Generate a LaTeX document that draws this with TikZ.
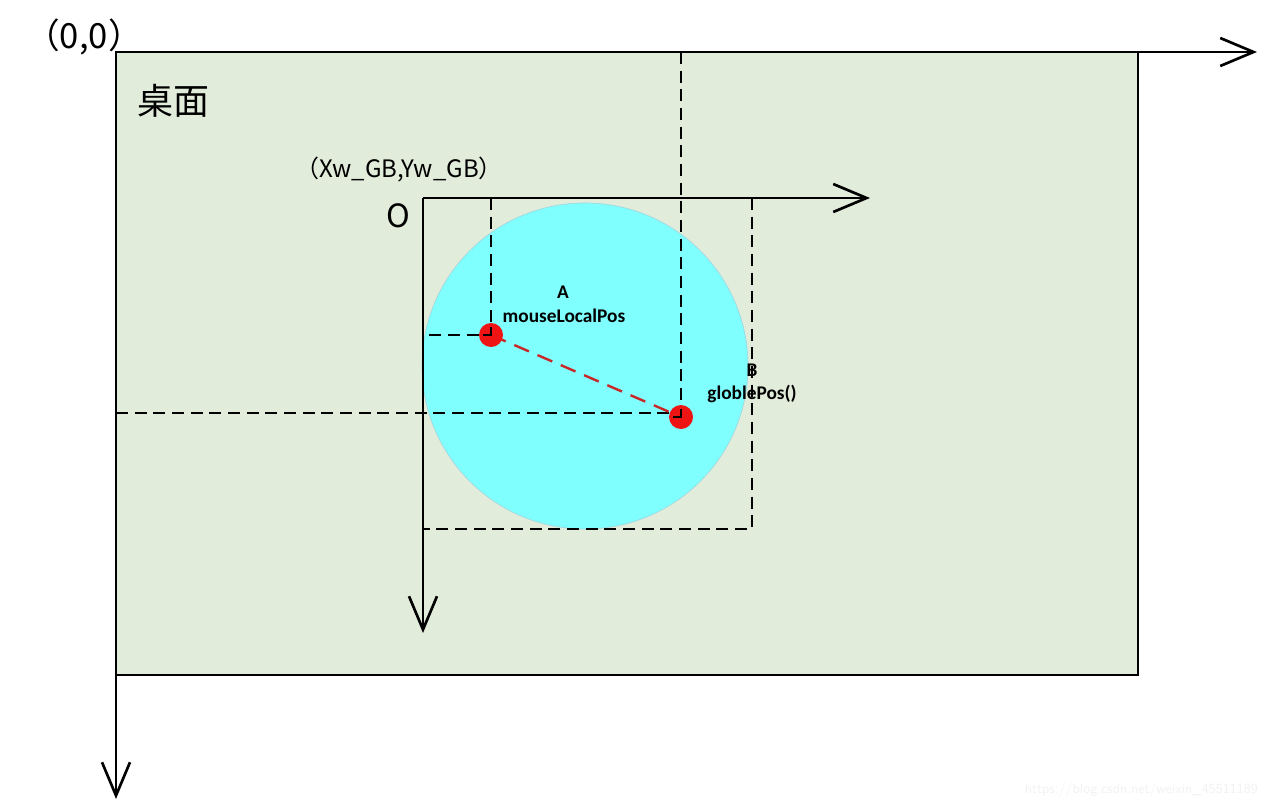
\documentclass[tikz,border=0pt]{standalone}
\usepackage{fontspec}
\setmainfont{Carlito}
\newfontfamily\cjk{Noto Sans CJK SC}
\usetikzlibrary{arrows.meta}
\definecolor{deskgreen}{RGB}{226,236,218}
\definecolor{circcyan}{RGB}{128,255,255}
\definecolor{circedge}{RGB}{160,215,225}
\definecolor{dotred}{RGB}{238,20,20}
\definecolor{linkred}{RGB}{200,40,40}
\definecolor{wmgray}{RGB}{242,242,242}
\tikzset{
  axis/.style={line width=2.2pt,-{Straight Barb[length=25pt,width=21pt,line width=2pt]}},
  guide/.style={line width=1.4pt,dash pattern=on 9pt off 5pt},
  dot/.style={circle,fill=dotred,inner sep=0pt,minimum size=18pt},
  lbl/.style={font=\bfseries\fontsize{14.5}{16}\selectfont,inner sep=0pt},
}
\begin{document}
\begin{tikzpicture}[x=0.75pt,y=-0.75pt]
\useasboundingbox[fill=white] (0,0) rectangle (1267,810);
% desktop
\fill[deskgreen] (116,52) rectangle (1138,675);
\draw[line width=1.1pt] (116,52) rectangle (1138,675);
% widget circle
\fill[circcyan,draw=circedge,line width=0.5pt] (585,366) circle (163);
% coordinates
\coordinate (O0) at (116,52);
\coordinate (Xend) at (1257,52);
\coordinate (Yend) at (116,799);
\coordinate (O) at (423,198);
\coordinate (xend) at (870,198);
\coordinate (yend) at (423,633);
\coordinate (Apt) at (491,335);
\coordinate (Bpt) at (681,417);
\coordinate (Rc) at (752,529);
% dashed guides
\draw[guide] (O -| Apt) -- (Apt) -- (O |- Apt);
\draw[guide] (O0 -| Bpt) -- (Bpt);
\draw[guide] (O0 |- 0,413) -- (681,413);
\draw[guide] (O -| Rc) -- (Rc) -- (O |- Rc);
% widget axes
\draw[axis] (O) -- (xend);
\draw[axis] (O) -- (yend);
% red points
\draw[linkred,line width=1.8pt,dash pattern=on 12pt off 7pt] (Apt) -- (Bpt);
\node[dot] (A) at (Apt) {};
\node[dot] (B) at (Bpt) {};
\draw[line width=1.4pt] (491,327) -- (491,335) -- (483,335);
\draw[line width=1.4pt] (681,409) -- (681,417) -- (673,417);
% main axes
\draw[axis] (O0) -- (Xend);
\draw[axis] (O0) -- (Yend);
% texts
\node[font=\cjk\fontsize{26}{28}\selectfont,inner sep=0pt] (t00) at (84,37) {（0,0）};
\node[font=\cjk\fontsize{27}{30}\selectfont,inner sep=0pt] (tdesk) at (173,101) {桌面};
\node[font=\cjk\fontsize{18}{20}\selectfont,inner sep=0pt] (tgb) at (399,170) {（Xw\_GB,Yw\_GB）};
\node[font=\cjk\fontsize{24}{26}\selectfont,inner sep=0pt] (tO) at (398,216) {O};
\node[lbl] (tA) at (563,292) {A};
\node[lbl] (tAn) at (564,316) {mouseLocalPos};
\node[lbl] (tB) at (752,370) {B};
\node[lbl] (tBn) at (752,394) {globlePos()};
\node[font=\sffamily\fontsize{10.5}{12}\selectfont,text=wmgray,inner sep=0pt,anchor=east] (wm) at (1258,790) {https://blog.csdn.net/weixin\_45511189};
\end{tikzpicture}
\end{document}
